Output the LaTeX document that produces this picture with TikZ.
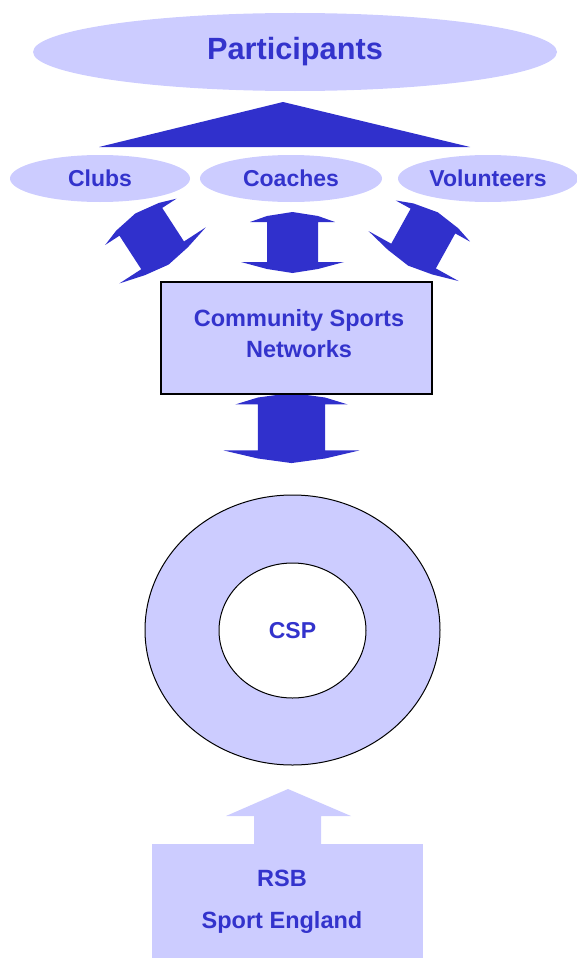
\documentclass[tikz,border=0pt]{standalone}
\usepackage{fontspec}
\setmainfont{Liberation Sans}
\usetikzlibrary{shapes.geometric}
\definecolor{lightfill}{RGB}{204,204,255}
\definecolor{darkblue}{RGB}{48,48,204}
\definecolor{textblue}{RGB}{51,51,204}
\newcommand{\dblarrowshape}{(-42.5,-20.5) -- (-25.5,-26.5) -- (0,-30.5) -- (25.5,-26.5) -- (42.5,-20.5) -- (25.5,-20.5) -- (25.5,19.5) -- (51.5,19.5) -- (25.5,26.5) -- (0,30.5) -- (-25.5,26.5) -- (-51.5,19.5) -- (-25.5,19.5) -- (-25.5,-20.5) -- cycle}
\begin{document}
\begin{tikzpicture}[x=1pt,y=-1pt,
  blob/.style={ellipse, fill=lightfill, draw=none, inner sep=0pt, text=textblue},
  smalllabel/.style={font=\fontsize{23}{28}\selectfont\bfseries},
  blockarrow/.style={fill=darkblue, draw=none},
  boxlabel/.style={text=textblue, align=center}]
\useasboundingbox (0,0) rectangle (576,958);

% Participants
\node[blob, minimum width=524, minimum height=78, font=\fontsize{30.7}{36}\selectfont\bfseries] (participants) at (295,52) {Participants};

% triangle
\fill[darkblue] (99,147) -- (283,102) -- (470,147) -- cycle;

% Clubs, Coaches, Volunteers
\node[blob, smalllabel, minimum width=180, minimum height=47] (clubs) at (100,178.5) {Clubs};
\node[blob, smalllabel, minimum width=182, minimum height=47] (coaches) at (291,178.5) {Coaches};
\node[blob, smalllabel, minimum width=180, minimum height=47] (volunteers) at (488,178.5) {Volunteers};

% double arrows
\coordinate (aleft) at (152,239);
\coordinate (amid) at (292.5,242.5);
\coordinate (aright) at (423,239);
\coordinate (adown) at (291.5,428);
\begin{scope}[shift={(aleft)}, rotate=33]
  \fill[blockarrow] \dblarrowshape;
\end{scope}
\begin{scope}[shift={(amid)}]
  \fill[blockarrow] \dblarrowshape;
\end{scope}
\begin{scope}[shift={(aright)}, rotate=-29]
  \fill[blockarrow] \dblarrowshape;
\end{scope}
\begin{scope}[shift={(adown)}, xscale=1.32, yscale=1.15]
  \fill[blockarrow] \dblarrowshape;
\end{scope}

% Community Sports Networks box
\node[draw=black, line width=1.2pt, fill=lightfill, minimum width=271, minimum height=112, inner sep=0pt] (csn) at (296.5,338) {};
\node[boxlabel, font=\fontsize{23.5}{31}\selectfont\bfseries] (csntext) at (299,334) {Community Sports\\Networks};

% CSP ring
\node[ellipse, draw=black, line width=1pt, fill=lightfill, minimum width=295, minimum height=270, inner sep=0pt] (ring) at (292.5,630) {};
\node[ellipse, draw=black, line width=1pt, fill=white, minimum width=147, minimum height=135, inner sep=0pt, text=textblue, smalllabel] (csp) at (292.5,630.5) {CSP};

% bottom arrow and RSB box
\fill[lightfill] (254,846) -- (254,816) -- (226,816) -- (288,789) -- (351,816) -- (321,816) -- (321,846) -- cycle;
\node[fill=lightfill, minimum width=271, minimum height=116, inner sep=0pt] (rsb) at (287.5,902) {};
\node[boxlabel, font=\fontsize{23.5}{42}\selectfont\bfseries] (rsbtext) at (282,902) {RSB\\Sport England};
\end{tikzpicture}
\end{document}
